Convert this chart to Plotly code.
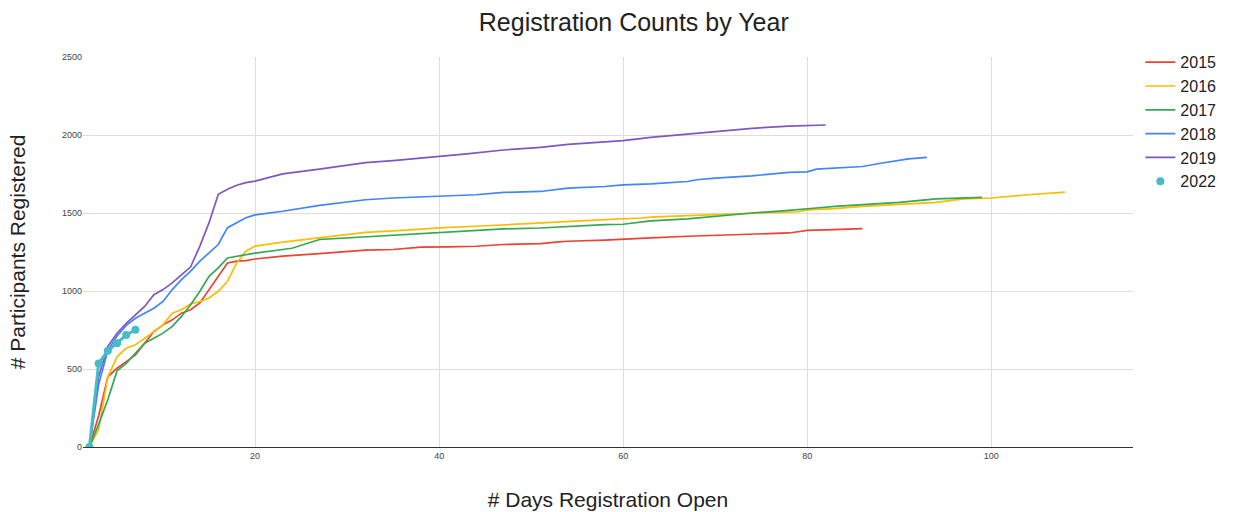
import plotly.graph_objects as go

# ---- data ----
days_2015 = [2,3,4,5,6,7,8,9,10,11,12,13,14,15,16,17,18,19,20,
             23,27,30,32,35,38,41,44,47,51,53,54,58,62,63,67,70,74,78,79,80,82,86]
vals_2015 = [0,200,450,505,547,590,665,740,783,815,858,880,923,1009,1094,1180,1191,1195,1205,
             1223,1240,1251,1262,1266,1281,1283,1287,1298,1304,1315,1319,1326,1334,1340,1351,1357,1368,1372,1380,1389,1392,1400]

days_2016 = [2,3,4,5,6,7,8,9,10,11,12,13,14,15,16,17,18,19,20,
             23,27,30,32,35,38,41,44,47,51,54,58,62,63,67,70,74,78,79,80,83,86,90,94,97,100,104,108]
vals_2016 = [0,112,450,578,633,655,697,740,783,858,880,918,933,955,998,1062,1180,1255,1288,
             1313,1340,1362,1376,1385,1398,1408,1415,1425,1436,1447,1457,1468,1474,1483,1489,1500,1506,1508,1520,1528,1542,1555,1568,1590,1596,1617,1634]

days_2017 = [2,3,4,5,6,7,8,9,10,11,12,13,14,15,16,17,18,19,20,
             23,24,27,30,32,35,38,41,44,47,51,54,58,60,62,63,67,70,74,78,80,81,83,86,90,94,99]
vals_2017 = [0,145,305,488,536,601,665,697,730,773,837,912,998,1094,1148,1212,1223,1234,1243,
             1266,1274,1330,1340,1351,1359,1368,1379,1387,1398,1404,1415,1425,1428,1445,1450,1462,1479,1500,1517,1530,1532,1542,1553,1568,1590,1600]

days_2018 = [2,3,4,5,6,7,8,9,10,11,12,13,14,15,16,17,18,19,20,
             23,27,30,32,35,38,41,44,47,51,54,58,60,63,67,68,70,74,78,80,81,86,88,91,93]
vals_2018 = [0,400,620,712,780,825,858,890,933,1009,1073,1127,1191,1245,1298,1406,1438,1470,1488,
             1511,1549,1568,1585,1596,1602,1611,1617,1632,1638,1660,1670,1680,1687,1702,1713,1723,1738,1760,1764,1781,1798,1819,1847,1857]

days_2019 = [2,3,4,5,6,7,8,9,10,11,12,13,14,15,16,17,18,19,20,
             23,27,30,32,35,38,40,43,47,51,54,58,60,63,67,70,72,74,78,81,82]
vals_2019 = [0,450,645,729,793,846,901,976,1009,1052,1105,1155,1288,1438,1620,1652,1678,1695,1704,
             1751,1781,1808,1823,1836,1851,1862,1879,1904,1921,1940,1955,1964,1985,2006,2021,2032,2043,2057,2064,2064]

days_2022 = [2,3,4,5,6,7]
vals_2022 = [0,536,617,665,718,752]

series = [
    ("2015", days_2015, vals_2015, "#ea4335"),
    ("2016", days_2016, vals_2016, "#fbbc04"),
    ("2017", days_2017, vals_2017, "#34a853"),
    ("2018", days_2018, vals_2018, "#4285f4"),
    ("2019", days_2019, vals_2019, "#7e57c2"),
]

fig = go.Figure()
for name, d, v, c in series:
    fig.add_trace(go.Scatter(x=d, y=v, name=name, mode="lines",
                             line=dict(color=c, width=1.7)))
# 2022: line drawn without legend entry, markers carry the legend dot
fig.add_trace(go.Scatter(x=days_2022, y=vals_2022, name="2022", mode="lines",
                         showlegend=False,
                         line=dict(color="#46bdc6", width=3)))
fig.add_trace(go.Scatter(x=days_2022, y=vals_2022, name="2022", mode="markers",
                         marker=dict(color="#46bdc6", size=8)))

fig.update_layout(
    width=1233, height=512,
    margin=dict(l=83, r=100, t=57, b=65, autoexpand=False),
    paper_bgcolor="white", plot_bgcolor="white",
    font=dict(family="Liberation Sans, Arial, sans-serif", color="#222"),
    title=dict(text="Registration Counts by Year", x=0.514, xanchor="center",
               y=1 - 22 / 512, yanchor="middle", font=dict(size=25, color="#222")),
    legend=dict(x=1.007, y=1.03, xanchor="left", yanchor="top",
                font=dict(size=16, color="#222"), bgcolor="rgba(0,0,0,0)",
                itemwidth=30, tracegroupgap=0),
    showlegend=True,
)
fig.update_xaxes(range=[1.3, 115.4], tickvals=[20, 40, 60, 80, 100],
                 showgrid=True, gridcolor="#dddddd", gridwidth=1, automargin=False,
                 zeroline=False, showline=True, linecolor="#333333", linewidth=1,
                 tickfont=dict(size=9, color="#444"), ticks="",
                 title=dict(text="# Days Registration Open", font=dict(size=21, color="#222"),
                            standoff=32))
fig.update_yaxes(range=[0, 2500], tickvals=[0, 500, 1000, 1500, 2000, 2500],
                 showgrid=True, gridcolor="#dddddd", gridwidth=1, automargin=False,
                 zeroline=False, showline=False,
                 tickfont=dict(size=9, color="#444"), ticks="",
                 title=dict(text="# Participants Registered", font=dict(size=21, color="#222"),
                            standoff=30))

fig.write_html("out.html", config={"displayModeBar": False},
               post_script="document.body.style.margin='0';document.body.style.overflow='hidden';")
